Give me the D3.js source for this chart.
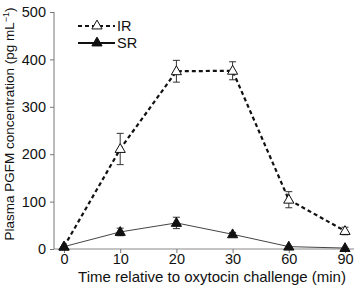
<!DOCTYPE html>
<html><head><meta charset="utf-8">
<script src="https://cdn.jsdelivr.net/npm/d3@7"></script>
<style>body{margin:0;background:#fff}svg{display:block}text{font-family:"Liberation Sans",Arial,sans-serif}</style>
</head><body>
<svg id="c" width="354" height="286"></svg>
<script>
const categories = ["0","10","20","30","60","90"];
const irValues = [5, 211, 375, 376, 104, 38];
const irErrors = [0, 33, 23, 19, 17, 8];
const srValues = [5, 36, 55, 31, 5, 2];
const srErrors = [0, 8, 12, 4, 0, 0];
const yTicks = [0, 100, 200, 300, 400, 500];

const svg = d3.select("#c");
const x = d3.scalePoint().domain(categories).range([64, 345]);
const y = d3.scaleLinear().domain([0, 500]).range([249, 12]);

// axes
const ax = svg.append("g").attr("transform","translate(54,0)").call(d3.axisLeft(y).tickValues(yTicks).tickSize(4).tickPadding(4));
ax.select(".domain").attr("d","M0,12V249").attr("stroke","#777");
ax.selectAll(".tick line").attr("stroke","#777");
ax.selectAll("text").attr("font-size",14.5).attr("fill","#111").attr("font-family","Liberation Sans, Arial");

const bx = svg.append("g").attr("transform","translate(0,249)").call(d3.axisBottom(x).tickSize(4).tickPadding(1));
bx.select(".domain").attr("d","M54,0H354").attr("stroke","#888");
bx.selectAll(".tick line").attr("stroke","#777");
bx.selectAll("text").attr("font-size",14.5).attr("fill","#111").attr("font-family","Liberation Sans, Arial");

svg.append("text").attr("x",212).attr("y",282).attr("text-anchor","middle").attr("font-size",15).attr("fill","#111")
  .text("Time relative to oxytocin challenge (min)");
svg.append("text").attr("transform","translate(14,124) rotate(-90)").attr("text-anchor","middle").attr("font-size",13.5).attr("fill","#111")
  .html('Plasma PGFM concentration (pg mL<tspan dy="-5" font-size="9">−1</tspan><tspan dy="5">)</tspan>');

const tri = d3.symbol().type(d3.symbolTriangle).size(45);

function series(vals, errs, dashed, filled) {
  const g = svg.append("g");
  const line = d3.line().x((d,i)=>x(categories[i])).y(d=>y(d));
  g.append("path").datum(vals).attr("d",line).attr("fill","none")
    .attr("stroke", dashed ? "#111" : "#444").attr("stroke-width", dashed ? 2.2 : 1)
    .attr("stroke-dasharray", dashed ? "4,3" : null);
  vals.forEach((v,i)=>{
    const e = errs[i];
    if (e > 0) {
      const cx = x(categories[i]);
      g.append("line").attr("x1",cx).attr("x2",cx).attr("y1",y(v+e)).attr("y2",y(v-e)).attr("stroke","#333").attr("stroke-width",1);
      [v+e, v-e].forEach(t=>g.append("line").attr("x1",cx-3.5).attr("x2",cx+3.5).attr("y1",y(t)).attr("y2",y(t)).attr("stroke","#333").attr("stroke-width",1));
    }
  });
  g.selectAll("path.m").data(vals).enter().append("path").attr("class","m").attr("d",tri)
    .attr("transform",(d,i)=>`translate(${x(categories[i])},${y(d)+0.5})`)
    .attr("fill", filled ? "#111" : "#fff").attr("stroke","#111").attr("stroke-width",1);
}
series(irValues, irErrors, true, false);
series(srValues, srErrors, false, true);

// legend
const lg = svg.append("g");
lg.append("line").attr("x1",78).attr("x2",115).attr("y1",26).attr("y2",26).attr("stroke","#111").attr("stroke-width",2.2).attr("stroke-dasharray","4,3");
lg.append("path").attr("d",tri).attr("transform","translate(97,26)").attr("fill","#fff").attr("stroke","#111");
lg.append("text").attr("x",117).attr("y",31).attr("font-size",14.5).attr("fill","#111").text("IR");
lg.append("line").attr("x1",78).attr("x2",115).attr("y1",43).attr("y2",43).attr("stroke","#111").attr("stroke-width",2);
lg.append("path").attr("d",tri).attr("transform","translate(97,43)").attr("fill","#111").attr("stroke","#111");
lg.append("text").attr("x",117).attr("y",48).attr("font-size",14.5).attr("fill","#111").text("SR");
</script>
</body></html>
